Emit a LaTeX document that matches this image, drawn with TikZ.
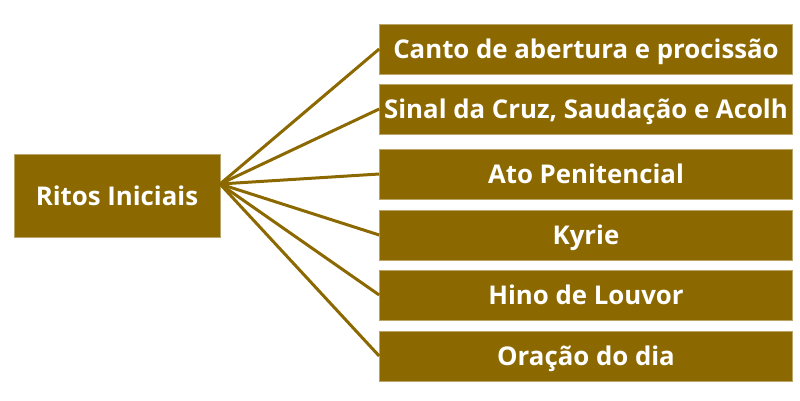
\documentclass[tikz,border=0pt]{standalone}
\usepackage{fontspec}
\setmainfont{Open Sans}
\definecolor{ouro}{HTML}{8C6900}
\begin{document}
\begin{tikzpicture}[x=1pt, y=-1pt,
  caixa/.style={fill=ouro, draw=ouro!60, line width=.6pt, text=white, inner sep=0pt,
    text height=18pt, text depth=0pt, font=\fontsize{25.8}{28}\selectfont\bfseries},
  item/.style={caixa, minimum width=413pt, minimum height=50pt},
  ligacao/.style={draw=ouro, line width=3pt}]
\useasboundingbox (0,0) rectangle (800,400);
\node[caixa, minimum width=206pt, minimum height=83pt] (ritos) at (117,196) {Ritos Iniciais};
\coordinate (hub) at (220,184);
\node[item] (canto) at (586,49) {Canto de abertura e procissão};
\node[item] (sinal) at (586,109) {Sinal da Cruz, Saudação e Acolh};
\node[item] (ato) at (586,174) {Ato Penitencial};
\node[item] (kyrie) at (586,235) {Kyrie};
\node[item] (hino) at (586,295) {Hino de Louvor};
\node[item] (oracao) at (586,356) {Oração do dia};
\draw[ligacao] (hub)--(canto.west);
\draw[ligacao] (hub)--(sinal.west);
\draw[ligacao] (hub)--(ato.west);
\draw[ligacao] (hub)--(kyrie.west);
\draw[ligacao] (hub)--(hino.west);
\draw[ligacao] (hub)--(oracao.west);
\end{tikzpicture}
\end{document}
